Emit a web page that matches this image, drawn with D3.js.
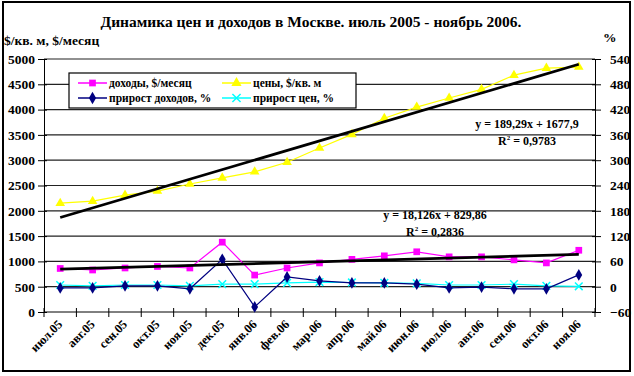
<!DOCTYPE html>
<html><head><meta charset="utf-8">
<script src="https://cdn.jsdelivr.net/npm/d3@7"></script>
<style>body{margin:0;background:#fff}svg{display:block}svg text{font-family:"Liberation Serif","Times New Roman","DejaVu Serif",serif !important;font-weight:bold;fill:#000}</style>
</head><body><svg id="c" width="634" height="376"></svg>
<script>
const months = ["июл.05","авг.05","сен.05","окт.05","ноя.05","дек.05","янв.06","фев.06","мар.06","апр.06","май.06","июн.06","июл.06","авг.06","сен.06","окт.06","ноя.06"];
const incomes = [860,830,870,900,870,1380,730,870,970,1040,1110,1190,1090,1090,1030,970,1220];
const prices = [2150,2190,2310,2390,2530,2650,2770,2960,3240,3510,3830,4050,4230,4400,4680,4820,4840];
const incomeGrowth = [-3,-3,2,2,-5,65,-48,23,14,9,9,6,-3,-1,-5,-5,28];
const priceGrowth = [4,2,4,4,2,6,6,9,11,10,9,8,4,4,6,2,1];
const leftTicks = [0,500,1000,1500,2000,2500,3000,3500,4000,4500,5000];
const rightTicks = [-60,0,60,120,180,240,300,360,420,480,540];
const trendPrice = {slope:189.29, intercept:1677.9, eq:"y = 189,29x + 1677,9", r2:"0,9783"};
const trendIncome = {slope:18.126, intercept:829.86, eq:"y = 18,126x + 829,86", r2:"0,2836"};
const title = "Динамика цен и доходов в Москве. июль 2005 - ноябрь 2006.";

const svg = d3.select("#c");
const L=44,R=595,T=59,B=312;
const x = d3.scaleBand().domain(months).range([L,R]).padding(0);
const xc = d => x(d)+x.bandwidth()/2;
const yL = d3.scaleLinear().domain([0,5000]).range([B,T]);
const yR = d3.scaleLinear().domain([-60,540]).range([B,T]);

// outer frame
svg.append("rect").attr("x",3).attr("y",2).attr("width",627).attr("height",369).attr("fill","none").attr("stroke","#000").attr("stroke-width",2);

// gridlines
svg.append("g").selectAll("line").data(leftTicks.filter(d=>d>0)).join("line")
 .attr("x1",L).attr("x2",R).attr("y1",d=>yL(d)).attr("y2",d=>yL(d)).attr("stroke","#222").attr("stroke-width",1.2);

// axes
const gl = svg.append("g").attr("transform",`translate(${L},0)`).call(d3.axisLeft(yL).tickValues(leftTicks).tickFormat(d3.format("d")).tickSize(6).tickPadding(3).tickSizeOuter(0));
const gr = svg.append("g").attr("transform",`translate(${R},0)`).call(d3.axisRight(yR).tickValues(rightTicks).tickFormat(d3.format("d")).tickSize(6).tickPadding(9).tickSizeOuter(0));
[gl,gr].forEach(g=>{g.attr("font-family",null);g.select(".domain").attr("stroke","#000");g.selectAll(".tick line").attr("stroke","#000");
  g.selectAll("text").attr("font-size",13.5);});
gl.selectAll(".tick line").attr("x2",-6).clone().attr("x2",3);
gr.selectAll(".tick line").clone().attr("x2",-3);

// x axis
const gx = svg.append("g").attr("transform",`translate(0,${B})`);
gx.append("line").attr("x1",L).attr("x2",R).attr("stroke","#000");
gx.selectAll("line.t").data(d3.range(months.length+1)).join("line").attr("class","t")
 .attr("x1",i=>L+i*x.bandwidth()).attr("x2",i=>L+i*x.bandwidth()).attr("y1",-4).attr("y2",5).attr("stroke","#000");
gx.selectAll("text").data(months).join("text")
 .attr("transform",d=>`translate(${xc(d)+3},${13}) rotate(-45)`)
 .attr("text-anchor","end").attr("font-size",12.5).text(d=>d);

// series
function series(data, yS, color, marker, size){
  const g = svg.append("g");
  g.append("path").datum(data).attr("fill","none").attr("stroke",color).attr("stroke-width",1.2)
   .attr("d",d3.line().x((d,i)=>xc(months[i])).y(d=>yS(d)));
  g.selectAll("path.m").data(data).join("path").attr("class","m")
   .attr("transform",(d,i)=>`translate(${xc(months[i])},${yS(d)})`)
   .attr("d",d3.symbol().type(marker).size(size))
   .attr("fill",marker===d3.symbolX?"none":color).attr("stroke",color).attr("stroke-width",marker===d3.symbolX?1.5:0);
}
series(prices,yL,"#FFFF00",d3.symbolTriangle,40);
series(incomes,yL,"#FF00FF",d3.symbolSquare,45);
series(priceGrowth,yR,"#00FFFF",d3.symbolX,40);
series(incomeGrowth,yR,"#000080",d3.symbolDiamond,40);

// trend lines
[trendPrice,trendIncome].forEach(t=>{
  const n=months.length;
  svg.append("line").attr("x1",xc(months[0])).attr("x2",xc(months[n-1]))
   .attr("y1",yL(t.slope*1+t.intercept)).attr("y2",yL(t.slope*n+t.intercept))
   .attr("stroke","#000").attr("stroke-width",2.8);
});

// equation labels
function eq(t,cx,cy){
  svg.append("text").attr("x",cx).attr("y",cy).attr("text-anchor","middle").attr("font-size",12).text(t.eq);
  const r = svg.append("text").attr("x",cx).attr("y",cy+17).attr("text-anchor","middle").attr("font-size",12);
  r.append("tspan").text("R");
  r.append("tspan").attr("font-size",7).attr("dy",-5).text("2");
  r.append("tspan").attr("dy",5).text(" = "+t.r2);
}
eq(trendPrice,527,128);
eq(trendIncome,435,219);

// legend
const lg = svg.append("g");
lg.append("rect").attr("x",69).attr("y",73).attr("width",287).attr("height",35).attr("fill","#fff").attr("stroke","#000").attr("stroke-width",1.2);
const leg = [
 {name:"доходы, $/месяц",color:"#FF00FF",m:d3.symbolSquare,x:78,y:83},
 {name:"цены, $/кв. м",color:"#FFFF00",m:d3.symbolTriangle,x:222,y:83},
 {name:"прирост доходов, %",color:"#000080",m:d3.symbolDiamond,x:78,y:98},
 {name:"прирост цен, %",color:"#00FFFF",m:d3.symbolX,x:222,y:98}];
leg.forEach(e=>{
  lg.append("line").attr("x1",e.x).attr("x2",e.x+29).attr("y1",e.y).attr("y2",e.y).attr("stroke",e.color).attr("stroke-width",1.5);
  lg.append("path").attr("transform",`translate(${e.x+14.5},${e.y})`).attr("d",d3.symbol().type(e.m).size(45))
   .attr("fill",e.m===d3.symbolX?"none":e.color).attr("stroke",e.color).attr("stroke-width",e.m===d3.symbolX?1.5:0);
  lg.append("text").attr("x",e.x+31).attr("y",e.y+4).attr("font-size",11.5).text(e.name);
});

// titles
svg.append("text").attr("x",311).attr("y",27).attr("text-anchor","middle").attr("font-size",15.5).text(title);
svg.append("text").attr("x",4).attr("y",45).attr("font-size",13.5).text("$/кв. м, $/месяц");
svg.append("text").attr("x",603).attr("y",42).attr("font-size",13.5).text("%");
</script></body></html>
